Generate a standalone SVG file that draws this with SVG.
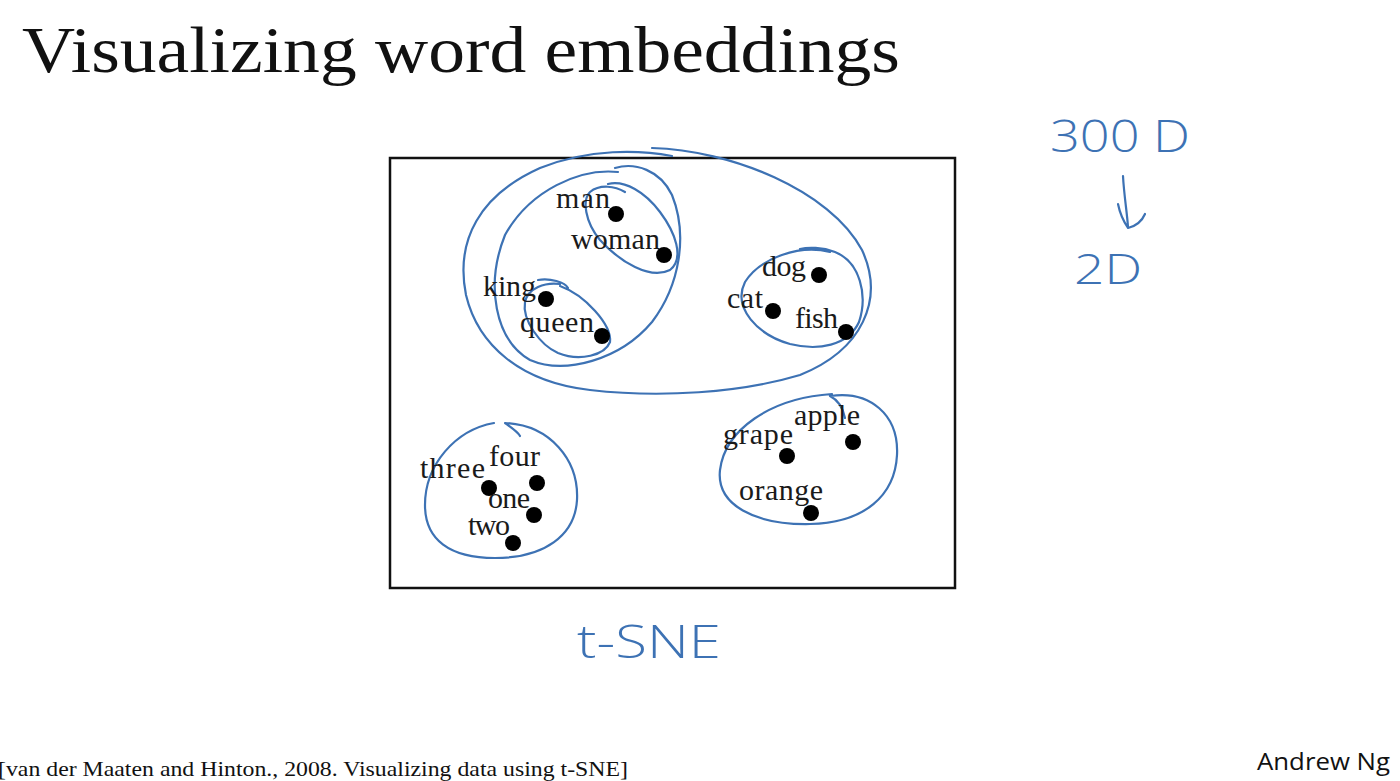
<svg xmlns="http://www.w3.org/2000/svg" width="1400" height="781" viewBox="0 0 1400 781">
<style>
.lbl{font-family:"Liberation Serif","Times New Roman",serif;font-size:30px;fill:#1a1a1a}
.dot{fill:#000}
.ink{fill:none;stroke:#3d72b4;stroke-width:2.2;stroke-linecap:round;stroke-linejoin:round}
.hand{font-family:"Open Sans","DejaVu Sans",sans-serif;font-weight:300;fill:#3d72b4}
</style>
<rect width="1400" height="781" fill="#fff"/>
<text x="22" y="72" font-family="'Liberation Serif','Times New Roman',serif" font-size="66" fill="#111" textLength="878" lengthAdjust="spacingAndGlyphs">Visualizing word embeddings</text>
<rect x="390" y="158" width="565" height="430" fill="none" stroke="#111" stroke-width="2.5"/>

<g id="connectors">
<path class="ink" d="M652,148 C730,150 830,190 862,250 C885,300 862,350 800,375 C740,393 660,398 590,390 C520,382 478,345 466,295 C455,240 480,195 540,168 C590,148 640,150 672,156"/>
<path class="ink" d="M618,172 C580,168 530,190 505,235 C485,285 495,340 530,360 C565,375 620,360 652,322 C680,285 688,235 672,195 C660,170 635,162 615,168"/>
<path class="ink" d="M608,184 C625,180 645,192 660,212 C675,232 685,258 670,270 C650,280 620,262 600,240 C585,222 582,200 590,192 C600,184 615,186 625,192"/>
<path class="ink" d="M538,280 C550,278 565,282 568,288 M560,284 C545,282 528,288 525,302 C522,320 540,345 558,353 C580,362 605,355 610,342 C612,325 585,295 560,286"/>
<path class="ink" d="M830,252 C800,244 760,258 745,282 C732,308 758,335 790,344 C818,351 848,346 859,322 C868,295 860,262 835,252 C822,247 808,247 800,249"/>
<path class="ink" d="M494,423 C455,430 425,465 425,505 C425,540 450,558 495,558 C545,558 575,535 577,500 C579,460 550,425 505,423 C512,428 518,432 520,436"/>
<path class="ink" d="M832,394 C770,398 725,430 720,470 C716,505 755,525 810,524 C865,523 895,495 897,455 C899,415 870,390 830,396 C838,400 843,408 845,418"/>
<path class="ink" d="M1123,176 C1124,195 1127,212 1128,227 M1118,204 C1120,214 1124,222 1128,228 C1136,226 1142,221 1145,214"/>
</g>

<g id="man"><circle class="dot" cx="616" cy="214" r="8"/><text class="lbl" x="556" y="208" textLength="54">man</text></g>
<g id="woman"><circle class="dot" cx="664" cy="255" r="8"/><text class="lbl" x="571" y="249" textLength="89">woman</text></g>
<g id="king"><circle class="dot" cx="546" cy="299" r="8"/><text class="lbl" x="483" y="296" textLength="53">king</text></g>
<g id="queen"><circle class="dot" cx="602" cy="336" r="8"/><text class="lbl" x="520" y="332" textLength="74">queen</text></g>
<g id="dog"><circle class="dot" cx="819" cy="275" r="8"/><text class="lbl" x="762" y="276" textLength="44">dog</text></g>
<g id="cat"><circle class="dot" cx="773" cy="311" r="8"/><text class="lbl" x="727" y="308" textLength="36">cat</text></g>
<g id="fish"><circle class="dot" cx="846" cy="332" r="8"/><text class="lbl" x="795" y="328" textLength="43">fish</text></g>
<g id="three"><circle class="dot" cx="489" cy="488" r="8"/><text class="lbl" x="420" y="478" textLength="65">three</text></g>
<g id="four"><circle class="dot" cx="537" cy="483" r="8"/><text class="lbl" x="489" y="466" textLength="51">four</text></g>
<g id="one"><circle class="dot" cx="534" cy="515" r="8"/><text class="lbl" x="488" y="508" textLength="42">one</text></g>
<g id="two"><circle class="dot" cx="513" cy="543" r="8"/><text class="lbl" x="468" y="535" textLength="42">two</text></g>
<g id="grape"><circle class="dot" cx="787" cy="456" r="8"/><text class="lbl" x="723" y="444" textLength="70">grape</text></g>
<g id="apple"><circle class="dot" cx="853" cy="442" r="8"/><text class="lbl" x="794" y="425" textLength="66">apple</text></g>
<g id="orange"><circle class="dot" cx="811" cy="513" r="8"/><text class="lbl" x="739" y="500" textLength="84">orange</text></g>

<text class="hand" x="1050" y="152" font-size="44" textLength="140" lengthAdjust="spacingAndGlyphs">300 D</text>
<text class="hand" x="1074" y="284" font-size="42" textLength="68" lengthAdjust="spacingAndGlyphs">2D</text>
<text class="hand" x="577" y="658" font-size="46" textLength="144" lengthAdjust="spacingAndGlyphs">t-SNE</text>

<text x="-2" y="776" font-family="'Liberation Serif','Times New Roman',serif" font-size="21" fill="#111" textLength="630" lengthAdjust="spacingAndGlyphs">[van der Maaten and Hinton., 2008. Visualizing data using t-SNE]</text>
<text x="1257" y="770" font-family="'Open Sans','Liberation Sans',sans-serif" font-size="24" fill="#111" textLength="133" lengthAdjust="spacingAndGlyphs">Andrew Ng</text>
</svg>
